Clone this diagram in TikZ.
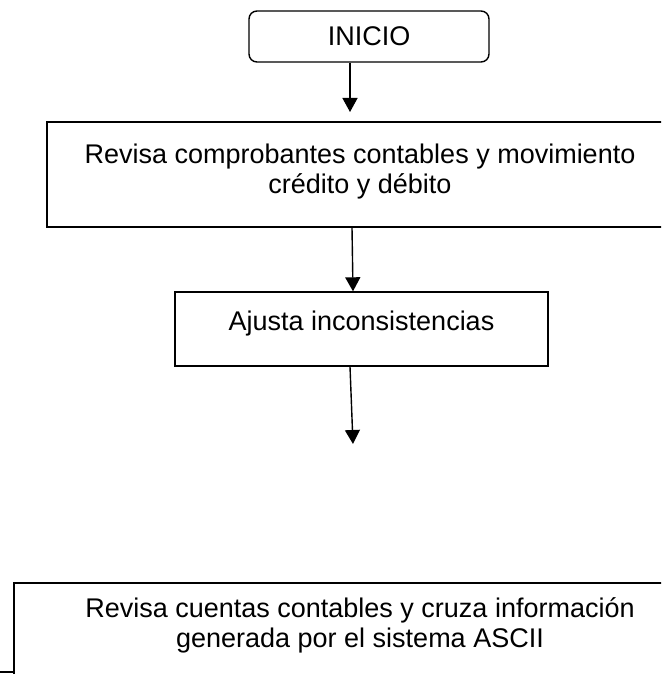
\documentclass[tikz,border=0pt]{standalone}
\usepackage{fontspec}
\setmainfont{Liberation Sans}
\usetikzlibrary{arrows.meta}

\tikzset{
    caja/.style={draw, line width=1.4pt, inner sep=0pt},
    texto/.style={align=center, inner sep=0pt, font=\fontsize{27pt}{30pt}\selectfont},
    flecha/.style={line width=1.4pt, -{Triangle[width=15pt,length=14pt]}}
}

\begin{document}
\begin{tikzpicture}[x=1pt, y=-1pt]
    \useasboundingbox (0,0) rectangle (661,674);
    \clip (0,0) rectangle (661,674);

    % 1. Inicio
    \node[caja, texto, rounded corners=8pt, minimum width=240pt, minimum height=51pt] (inicio) at (369,36.5) {INICIO};

    % 2. Revisa comprobantes
    \node[caja, minimum width=626pt, minimum height=105pt] (revisa) at (360,174.5) {};
    \node[texto, anchor=north] (revisaTxt) at ([yshift=-22pt]revisa.north)
        {Revisa comprobantes contables y movimiento\\cr\'edito y d\'ebito};

    % 3. Ajusta inconsistencias
    \node[caja, minimum width=373pt, minimum height=74pt] (ajusta) at (361.5,329) {};
    \node[texto, anchor=north] (ajustaTxt) at ([yshift=-19pt]ajusta.north) {Ajusta inconsistencias};

    % 4. Revisa cuentas
    \node[caja, minimum width=692pt, minimum height=117pt] (cuentas) at (360,641.5) {};
    \node[texto, anchor=north] (cuentasTxt) at ([yshift=-15pt]cuentas.north)
        {Revisa cuentas contables y cruza informaci\'on\\generada por el sistema ASCII};

    % Flechas
    \coordinate (f1) at (350,112);
    \coordinate (f3) at (353,444);
    \coordinate (tramo) at (0,672);
    \draw[flecha] (inicio.south -| f1) -- (f1);
    \draw[flecha] ([xshift=-8pt]revisa.south) -- ([xshift=-8.5pt]ajusta.north);
    \draw[flecha] ([xshift=-11.5pt]ajusta.south) -- (f3);
    \draw[line width=1.4pt] (tramo) -- (tramo -| cuentas.west);
\end{tikzpicture}
\end{document}
